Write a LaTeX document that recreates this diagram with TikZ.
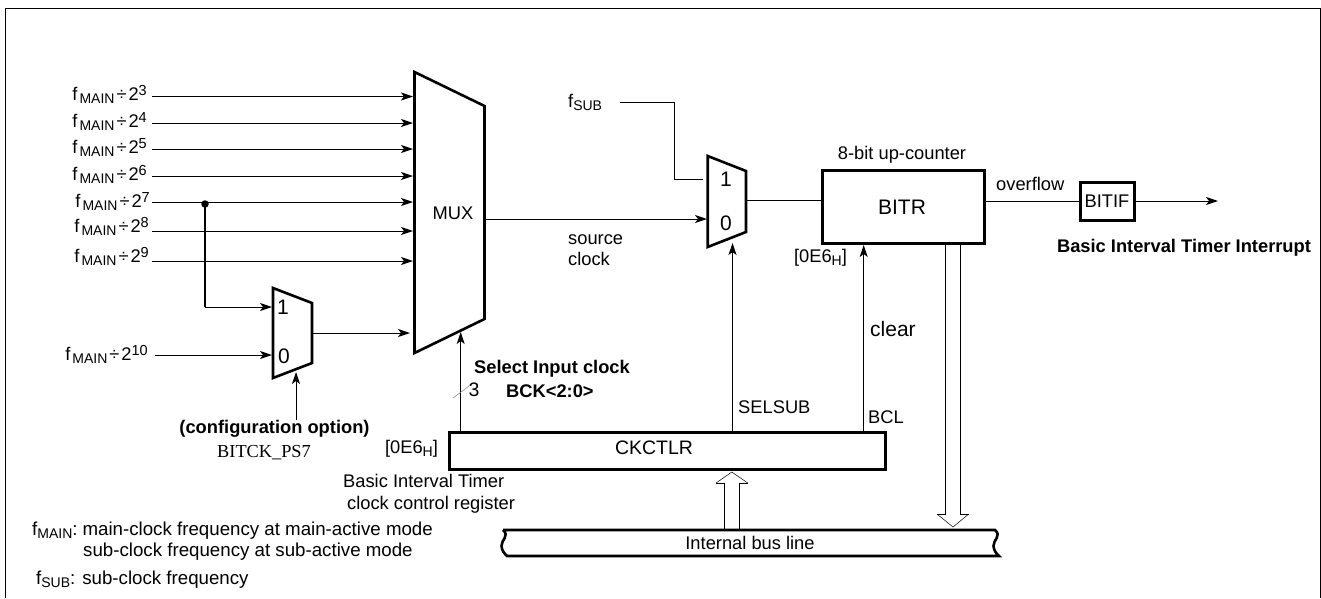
\documentclass[tikz,border=0pt]{standalone}
\usepackage{fontspec}
\setmainfont{Liberation Sans}
\newfontfamily\timesfont{Liberation Serif}
\usetikzlibrary{arrows.meta}
\tikzset{
	plaintext/.style={font=\fontsize{18.3}{22}\selectfont, inner sep=0pt}
}
\tikzset{
	notetext/.style={font=\fontsize{18.7}{22}\selectfont, inner sep=0pt}
}
\tikzset{
	boldtext/.style={font=\fontsize{18.3}{22}\selectfont\bfseries, inner sep=0pt}
}
\tikzset{
	bigtext/.style={font=\fontsize{21}{25}\selectfont, inner sep=0pt}
}
\tikzset{
	sig/.style={line width=1pt},
	sigarrow/.style={line width=1pt, -{Stealth[length=12pt, width=8pt, inset=3pt]}},
	regbox/.style={draw, line width=3pt, inner sep=0pt, outer sep=0pt},
	busarrow/.style={line width=0.9pt}
}
\newcommand{\lowtext}[1]{\raisebox{-3pt}{\fontsize{14}{14}\selectfont #1}}
\newcommand{\hightext}[1]{\raisebox{5pt}{\fontsize{14.5}{14}\selectfont #1}}
\newcommand{\fmain}[1]{f\kern2pt\lowtext{MAIN}\kern2pt÷\kern2pt2\hightext{#1}}

\begin{document}
\begin{tikzpicture}[x=1pt, y=-1pt]
      \useasboundingbox (0,0) rectangle (1321,598);
      \draw[line width=1pt] (5.5,598) -- (5.5,8.5) -- (1320.3,8.5) -- (1320.3,598);

      \draw[line width=2.6pt] (414.5,72) -- (484.5,106) -- (484.5,319) -- (414.5,353) -- cycle;
      \node[plaintext] (muxname) at (453,213) {MUX};
      \coordinate (muxout) at (484.5,219);
      \coordinate (muxsel) at (460.7,332);

      \foreach \n/\y/\r/\b in {3/96.5/152/100, 4/123/152/127.5, 5/149/152/153, 6/176/152/180, 7/202/155/207, 8/231/154/232.7, 9/261/154/262.7} {
        \coordinate (in\n) at (413,\y);
        \node[plaintext, anchor=base east] (f\n) at (\r-5,\b) {\fmain{\n}};
        \draw[sigarrow] (152,\y) -- (in\n);
      }

      \draw[line width=2.6pt] (273,288) -- (312,303) -- (312,363) -- (273,378) -- cycle;
      \node[bigtext] (pickone) at (283,307) {1};
      \node[bigtext] (pickzero) at (284,356) {0};
      \coordinate (pickin one) at (272,307);
      \coordinate (pickin zero) at (272,355);
      \coordinate (pickout) at (312,333);
      \coordinate (picksel) at (296,372);
      \coordinate (muxlast) at (410,333);

      \node[circle, fill, inner sep=0pt, minimum size=7.5pt] (tap) at (205,204) {};
      \draw[line width=1.4pt] (tap.center) -- (205,307);
      \draw[sigarrow] (205,307) -- (pickin one);
      \draw[sigarrow] (pickout) -- (muxlast);

      \node[plaintext, anchor=base east] (f10) at (148,360.7) {\fmain{10}};
      \draw[sigarrow] (155,355) -- (pickin zero);

      \node[boldtext] (cfgname) at (274.5,429) {(configuration option)};
      \node[plaintext, font=\fontsize{18.3}{22}\timesfont] (cfgbit) at (264,453) {BITCK\_PS7};
      \draw[sigarrow] (picksel |- cfgname.north) -- (picksel);

      \draw[line width=2.6pt] (707.7,156) -- (746,171) -- (746,232) -- (707.7,247) -- cycle;
      \node[bigtext] (subone) at (726,179) {1};
      \node[bigtext] (subzero) at (726,223) {0};
      \coordinate (subin) at (707,219);
      \draw[sigarrow] (muxout) -- (subin);
      \node[plaintext, anchor=base west] (srcone) at (568,244) {source};
      \node[plaintext, anchor=base west] (srctwo) at (568,265) {clock};

      \node[plaintext, anchor=base west] (fsub) at (568,107) {f\lowtext{SUB}};
      \draw[sig] (620,102) -| (674,179) -- (703,179);

      \node[regbox, minimum width=162pt, minimum height=73pt] (bitr) at (903,206.5) {};
      \node[bigtext] (bitrname) at (902,207) {BITR};
      \node[plaintext] (bitrtop) at (902,155) {8-bit up-counter};
      \draw[sig] (746,200) -- (bitr.west |- 0,200);

      \node[regbox, minimum width=54pt, minimum height=38pt] (bitif) at (1107,201) {};
      \node[plaintext] (bitifname) at (1107,201) {BITIF};
      \draw[sig] (bitr.east |- bitif.west) -- (bitif.west);
      \coordinate (irqout) at (1218,201);
      \draw[sigarrow] (bitif.east) -- (irqout);
      \node[plaintext, anchor=base west] (ovf) at (996,190) {overflow};
      \node[boldtext] (irqname) at (1184,248) {Basic Interval Timer Interrupt};

      \node[regbox, minimum width=436pt, minimum height=37pt] (ckctlr) at (667,451) {};
      \node[plaintext, font=\fontsize{19.5}{22}\selectfont] (ckname) at (654,448) {CKCTLR};
      \node[plaintext] (ckaddr) at (411.5,449) {[0E6\lowtext{H}]};
      \node[plaintext, anchor=west] (ckone) at (343,481) {Basic Interval Timer};
      \node[plaintext, anchor=west] (cktwo) at (347,505) {clock control register};

      \draw[sigarrow] (ckctlr.north -| muxsel) -- (muxsel);
      \draw[line width=0.5pt, gray] (453,398) -- (469,386);
      \node[bigtext, font=\fontsize{19.5}{22}\selectfont] (sel3) at (474,390) {3};
      \node[boldtext, anchor=west] (selone) at (474,369) {Select Input clock};
      \node[boldtext, anchor=west] (seltwo) at (506,391) {BCK<2:0>};

      \coordinate (subsel) at (732.5,243);
      \coordinate (bitrclr) at (863.7,245);
      \draw[sigarrow] (ckctlr.north -| subsel) -- (subsel);
      \draw[sigarrow] (ckctlr.north -| bitrclr) -- (bitrclr);
      \node[plaintext, anchor=base west] (selsub) at (738,413) {SELSUB};
      \node[plaintext, anchor=base west] (bcl) at (868,423) {BCL};
      \node[bigtext, anchor=base west] (clr) at (870,336) {clear};
      \node[plaintext] (bitraddr) at (820.5,258) {[0E6\lowtext{H}]};

      \draw[line width=2.6pt] (503,530) -- (995,530) .. controls (1002,536) and (993,540) .. (993.5,546) .. controls (994,551) and (996,553) .. (999,556) -- (507,556) .. controls (504,553) and (502,551) .. (501.5,546) .. controls (501,540) and (510,536) .. (503,530);
      \node[plaintext] (bus) at (750,543) {Internal bus line};

      \coordinate (uptip) at (731.8,472);
      \draw[busarrow] (724.3,530) -- (724.3,483) -- (716,483);
      \draw[busarrow] (739.3,530) -- (739.3,483) -- (747.7,483);
      \draw[line width=0.5pt] (716,483) -- (uptip) -- (747.7,483);

      \coordinate (downtip) at (953,527);
      \draw[busarrow] (bitr.south -| 945.7,0) -- (945.7,514) -- (937,514);
      \draw[busarrow] (bitr.south -| 960.3,0) -- (960.3,514) -- (968.7,514);
      \draw[line width=0.5pt] (937,514) -- (downtip) -- (968.7,514);

      \node[notetext, anchor=base west] (noteone) at (32,535) {f\lowtext{MAIN}:\kern5pt main-clock frequency at main-active mode};
      \node[notetext, anchor=base west] (notetwo) at (83,556) {sub-clock frequency at sub-active mode};
      \node[notetext, anchor=base west] (notethree) at (36,584) {f\lowtext{SUB}: sub-clock frequency};
    \end{tikzpicture}
\end{document}
